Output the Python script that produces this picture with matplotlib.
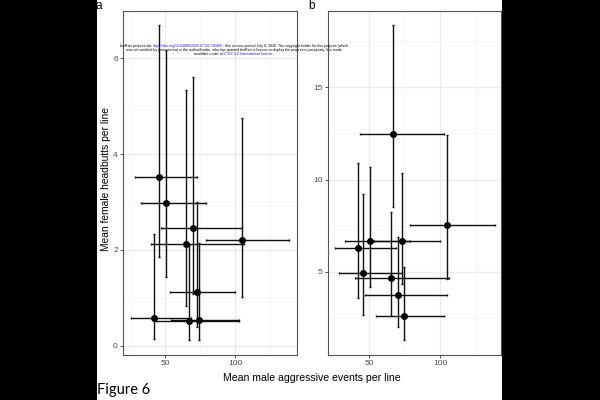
import matplotlib
matplotlib.use("Agg")
import matplotlib.pyplot as plt
from matplotlib.patches import Rectangle
from matplotlib.ticker import MultipleLocator

plt.rcParams['font.family'] = ['Liberation Sans', 'DejaVu Sans']

# male aggression per line (shared by both panels): mean and interval ends
male_mean = [42.3, 45.5, 50.8, 65.1, 67.0, 70.0, 73.0, 74.5, 104.8]
male_lo = [26.0, 28.5, 32.7, 40.0, 43.7, 47.0, 53.3, 54.5, 79.0]
male_hi = [68.5, 72.8, 79.0, 106.2, 102.5, 104.8, 99.8, 102.5, 138.5]

# panel a: female headbutts per line
headbutt_mean = [0.58, 3.53, 2.97, 2.12, 0.51, 2.46, 1.12, 0.53, 2.20]
headbutt_lo = [0.15, 1.86, 1.43, 0.83, 0.125, 1.08, 0.40, 0.125, 1.01]
headbutt_hi = [2.33, 6.69, 6.18, 5.33, 2.10, 5.61, 3.00, 2.15, 4.76]

# panel b
b_mean = [6.27, 4.95, 6.68, 4.66, 12.46, 3.75, 6.68, 2.62, 7.53]
b_lo = [3.60, 2.66, 4.16, 2.62, 8.49, 2.02, 4.32, 1.30, 4.60]
b_hi = [10.87, 9.19, 10.69, 8.25, 18.36, 6.90, 10.34, 5.27, 12.40]

a_yticks = [0, 2, 4, 6]
b_yticks = [5, 10, 15]
xticks = [50, 100]

W, H = 600, 400
fig = plt.figure(figsize=(6, 4), dpi=100)
fig.patch.set_facecolor('white')


def panel(rect, y, ylo, yhi, yticks, yminor, xlim, ylim):
    ax = fig.add_axes(rect)
    xerr = [[m - lo for m, lo in zip(male_mean, male_lo)],
            [hi - m for m, hi in zip(male_mean, male_hi)]]
    yerr = [[m - lo for m, lo in zip(y, ylo)],
            [hi - m for m, hi in zip(y, yhi)]]
    ax.errorbar(male_mean, y, xerr=xerr, yerr=yerr, fmt='o', color='black',
                ecolor='#111111', elinewidth=1.0, capsize=0.7, capthick=1.0,
                markersize=4.0, zorder=3)
    ax.set_xlim(*xlim)
    ax.set_ylim(*ylim)
    ax.set_xticks(xticks)
    ax.set_yticks(yticks)
    ax.xaxis.set_minor_locator(MultipleLocator(25))
    ax.yaxis.set_minor_locator(MultipleLocator(yminor))
    ax.grid(True, which='major', color='#EBEBEB', linewidth=0.9, zorder=0)
    ax.grid(True, which='minor', color='#F2F2F2', linewidth=0.5, zorder=0)
    ax.set_axisbelow(True)
    ax.tick_params(which='major', direction='out', length=2.2, width=0.6,
                   color='#333333', labelsize=6, labelcolor='#4D4D4D', pad=1.5)
    ax.tick_params(which='minor', length=0)
    for s in ax.spines.values():
        s.set_color('#555555')
        s.set_linewidth(0.8)
    return ax


panel([123 / W, 1 - 355 / H, 174 / W, 344.3 / H],
      headbutt_mean, headbutt_lo, headbutt_hi, a_yticks, 1,
      (20, 144), (-0.19, 6.99))
panel([328 / W, 1 - 355 / H, 173 / W, 344.3 / H],
      b_mean, b_lo, b_hi, b_yticks, 2.5,
      (20.8, 143), (0.49, 19.15))

fig.text(106 / W, 1 - 179 / H, 'Mean female headbutts per line', rotation=90,
         ha='center', va='center', fontsize=7.4)
fig.text(312 / W, 1 - 378 / H, 'Mean male aggressive events per line',
         ha='center', va='center', fontsize=7.6)

fig.text(95 / W, 1 - 6 / H, 'a', ha='left', va='center', fontsize=8.5, zorder=5)
fig.text(308 / W, 1 - 6 / H, 'b', ha='left', va='center', fontsize=8.5, zorder=5)
fig.text(97 / W, 1 - 390 / H, 'Figure 6', ha='left', va='center',
         fontsize=10.5, family=['Lato', 'DejaVu Sans'])

# tiny preprint notice over panel a
blue = '#1A1AFF'
notice = [
    [('bioRxiv preprint doi: ', 'black'),
     ('https://doi.org/10.64898/2026.07.04.736466', blue),
     ('; this version posted July 8, 2026. The copyright holder for this preprint (which', 'black')],
    [('was not certified by peer review) is the author/funder, who has granted bioRxiv a license to display the preprint in perpetuity. It is made', 'black')],
    [('available under a', 'black'), ('CC-BY 4.0 International license', blue), ('.', 'black')],
]
renderer = fig.canvas.get_renderer()
for row, cy in zip(notice, [46, 50, 54.3]):
    texts = [fig.text(0, 1 - cy / H, s, color=c, fontsize=2.6, ha='left', va='center')
             for s, c in row]
    widths = [t.get_window_extent(renderer).width for t in texts]
    x = 234 - sum(widths) / 2
    for t, w in zip(texts, widths):
        t.set_x(x / W)
        x += w

# black side bars of the scanned page
fig.patches.append(Rectangle((0, 0), 97 / W, 1, transform=fig.transFigure,
                             facecolor='black', edgecolor='none', zorder=10))
fig.patches.append(Rectangle((502 / W, 0), 98 / W, 1, transform=fig.transFigure,
                             facecolor='black', edgecolor='none', zorder=10))

fig.savefig('out.png', dpi=100)
